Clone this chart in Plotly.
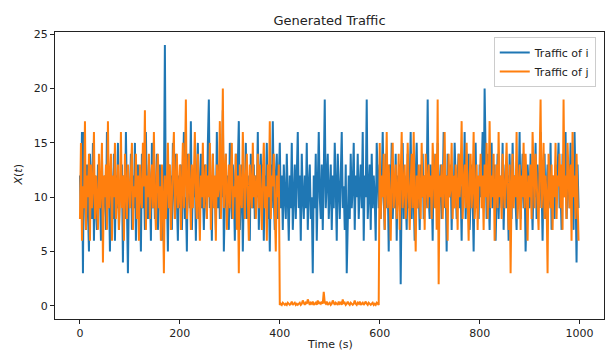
import plotly.graph_objects as go

traffic_i = [
    12, 8, 16, 3, 16, 10, 7, 13, 9, 5, 14, 11, 8, 15, 6, 12, 10, 7, 13, 9, 11, 6, 14, 8, 10,
    12, 7, 16, 9, 11, 5, 13, 10, 8, 14, 6, 12, 9, 15, 7, 11, 10, 13, 4, 12, 8, 16, 9, 3, 11,
    10, 14, 7, 12, 9, 15, 6, 11, 13, 8, 10, 5, 14, 9, 12, 7, 16, 10, 8, 13, 11, 6, 15, 9, 12,
    8, 11, 14, 7, 10, 13, 9, 6, 12, 10, 24, 8, 11, 5, 13, 9, 12, 7, 15, 10, 8, 14, 11, 6, 12,
    9, 13, 7, 11, 16, 8, 10, 5, 14, 12, 9, 17, 7, 11, 10, 13, 6, 12, 15, 8, 10, 14, 9, 11, 7,
    13, 10, 8, 15, 19, 9, 12, 6, 14, 10, 11, 7, 16, 9, 13, 8, 12, 10, 18, 5, 11, 14, 9, 12, 7,
    15, 10, 8, 13, 11, 6, 14, 9, 12, 17, 7, 10, 13, 5, 11, 9, 15, 8, 12, 10, 6, 14, 11, 9, 13,
    8, 12, 10, 16, 7, 11, 14, 9, 13, 6, 12, 10, 15, 8, 11, 5, 13, 9, 17, 10, 7, 12, 14, 8, 11,
    15, 9, 12, 7, 13, 10, 8, 14, 11, 6, 12, 9, 15, 7, 10, 13, 8, 11, 16, 9, 12, 6, 14, 10, 8,
    12, 9, 15, 7, 11, 13, 8, 10, 3, 12, 9, 14, 6, 11, 16, 10, 8, 13, 7, 12, 19, 9, 11, 14, 8,
    10, 13, 7, 12, 9, 15, 11, 6, 14, 10, 8, 12, 16, 9, 11, 7, 13, 3, 10, 12, 8, 14, 9, 11, 15,
    7, 12, 10, 14, 8, 11, 13, 9, 16, 6, 12, 10, 19, 8, 11, 13, 7, 14, 9, 12, 10, 6, 15, 11, 9,
    13, 8, 11, 16, 10, 7, 14, 9, 12, 5, 13, 10, 15, 8, 11, 9, 14, 6, 12, 10, 13, 2, 11, 15, 8,
    12, 10, 7, 14, 9, 11, 16, 8, 13, 10, 6, 12, 15, 9, 11, 7, 13, 10, 14, 8, 12, 9, 11, 19, 10,
    8, 13, 11, 6, 14, 10, 12, 9, 15, 7, 11, 13, 8, 10, 16, 9, 12, 5, 14, 11, 10, 13, 7, 12, 9,
    15, 10, 8, 12, 14, 9, 11, 6, 13, 10, 16, 8, 12, 9, 14, 7, 11, 13, 10, 5, 12, 15, 9, 11, 8,
    13, 10, 12, 16, 9, 20, 11, 8, 14, 10, 7, 12, 15, 9, 11, 13, 6, 10, 14, 8, 12, 11, 9, 15, 7,
    11, 13, 9, 12, 6, 14, 10, 8, 15, 11, 12, 9, 7, 13, 10, 16, 8, 11, 14, 9, 12, 5, 10, 13, 11,
    9, 14, 11, 7, 12, 10, 15, 8, 13, 11, 9, 16, 10, 6, 12, 14, 8, 11, 13, 9, 10, 15, 7, 12, 11,
    8, 13, 10, 12, 15, 9, 11, 7, 14, 10, 12, 16, 8, 11, 13, 9, 15, 10, 12, 7, 16, 11, 4, 13, 9,
]

traffic_j = [
    8, 15, 6, 11, 9, 17, 7, 12, 10, 14, 6, 13, 9, 11, 16, 8, 12, 10, 7, 14, 9, 11, 15, 4, 12,
    10, 13, 7, 17, 9, 11, 14, 6, 12, 10, 15, 8, 11, 13, 7, 10, 16, 9, 12, 6, 14, 10, 8, 13, 11,
    9, 12, 15, 7, 11, 10, 14, 8, 12, 6, 13, 10, 9, 15, 11, 18, 7, 12, 10, 14, 8, 11, 13, 9, 16,
    10, 7, 12, 14, 9, 11, 6, 13, 10, 3, 12, 8, 11, 15, 9, 13, 7, 10, 12, 16, 8, 11, 14, 9, 10,
    13, 7, 11, 15, 9, 12, 19, 8, 10, 14, 11, 7, 13, 9, 12, 16, 10, 8, 14, 11, 6, 12, 10, 15, 9,
    11, 13, 8, 12, 10, 15, 7, 11, 14, 9, 12, 6, 13, 10, 11, 17, 8, 12, 20, 9, 11, 14, 7, 10, 13,
    9, 12, 15, 8, 11, 10, 14, 7, 12, 3, 13, 10, 9, 16, 11, 8, 12, 14, 10, 6, 13, 11, 9, 15, 10,
    12, 8, 11, 14, 9, 13, 10, 7, 12, 15, 9, 11, 6, 13, 10, 17, 8, 12, 11, 14, 9, 5, 12, 10, 13,
    0.1, 0.2, 0.1, 0.3, 0.2, 0.1, 0.2, 0.1, 0.3, 0.2, 0.1, 0.2, 0.4, 0.1, 0.2, 0.3, 0.1, 0.2, 0.1, 0.2, 0.3, 0.1, 0.2, 0.5, 0.2,
    0.1, 0.3, 0.2, 0.6, 0.2, 0.1, 0.3, 0.2, 0.4, 0.1, 0.2, 0.3, 0.1, 0.5, 0.2, 0.3, 0.2, 0.4, 0.2, 1.3, 0.3, 0.2, 0.4, 0.1, 0.2,
    0.3, 0.1, 0.2, 0.5, 0.2, 0.1, 0.3, 0.2, 0.1, 0.4, 0.2, 0.3, 0.1, 0.6, 0.2, 0.3, 0.1, 0.2, 0.4, 0.2, 0.1, 0.3, 0.2, 0.1, 0.2,
    0.5, 0.2, 0.1, 0.3, 0.2, 0.4, 0.1, 0.2, 0.3, 0.1, 0.2, 0.4, 0.2, 0.1, 0.3, 0.2, 0.1, 0.2, 0.3, 0.1, 0.2, 0.1, 0.3, 0.2, 0.1,
    15, 8, 12, 10, 14, 7, 11, 16, 9, 13, 10, 6, 12, 15, 9, 11, 13, 8, 10, 14, 7, 12, 16, 9, 11,
    13, 8, 10, 15, 12, 7, 11, 14, 9, 16, 10, 5, 12, 9, 13, 11, 8, 15, 10, 12, 7, 14, 11, 9, 13,
    10, 12, 8, 15, 11, 9, 14, 7, 19, 2, 12, 10, 13, 8, 11, 16, 9, 12, 6, 14, 10, 11, 15, 8, 12,
    9, 13, 11, 7, 14, 10, 12, 17, 8, 11, 13, 9, 15, 10, 6, 12, 14, 9, 11, 16, 8, 10, 13, 7, 12,
    11, 14, 9, 12, 7, 13, 10, 15, 8, 11, 17, 9, 12, 10, 14, 6, 11, 13, 9, 16, 10, 12, 8, 14, 11,
    9, 12, 15, 10, 7, 13, 3, 11, 14, 9, 12, 10, 16, 8, 11, 13, 7, 12, 10, 15, 9, 14, 11, 6, 12,
    10, 13, 8, 16, 11, 9, 14, 12, 10, 7, 13, 19, 9, 11, 15, 8, 12, 10, 3, 14, 11, 9, 13, 7, 12,
    10, 15, 8, 12, 11, 14, 9, 13, 7, 19, 10, 12, 8, 15, 11, 9, 13, 6, 16, 10, 12, 8, 14, 11, 6,
]

time_i = [2 * k for k in range(len(traffic_i))]
time_j = [2 * k for k in range(len(traffic_j))]

x_ticks = [0, 200, 400, 600, 800, 1000]
y_ticks = [0, 5, 10, 15, 20, 25]

FONT = "DejaVu Sans"
INK = "#222222"

fig = go.Figure()
fig.add_trace(go.Scatter(x=time_i, y=traffic_i, mode="lines", name="Traffic of i",
                         line=dict(color="#1f77b4", width=2.0)))
fig.add_trace(go.Scatter(x=time_j, y=traffic_j, mode="lines", name="Traffic of j",
                         line=dict(color="#ff7f0e", width=2.0)))

fig.update_layout(
    width=605, height=352,
    margin=dict(l=55, r=1, t=32, b=33, autoexpand=False),
    paper_bgcolor="white", plot_bgcolor="white",
    font=dict(family=FONT, size=11, color=INK),
    title=dict(text="Generated Traffic", x=0.5, xref="paper", xanchor="center",
               y=1 - 20 / 352, yref="container", yanchor="middle",
               font=dict(family=FONT, size=13, color=INK)),
    showlegend=True,
    legend=dict(x=0.985, y=0.983, xanchor="right", yanchor="top",
                bgcolor="rgba(255,255,255,0.8)", bordercolor="#cccccc", borderwidth=1,
                font=dict(family=FONT, size=11, color=INK), itemwidth=30,
                tracegroupgap=0),
    annotations=[
        dict(text="<i>X</i>(<i>t</i>)", textangle=-90, xref="paper", yref="paper",
             x=(18 - 55) / 549, y=0.5, xanchor="center", yanchor="middle",
             showarrow=False, font=dict(family=FONT, size=11, color=INK)),
        dict(text="Time (s)", xref="paper", yref="paper",
             x=0.5, y=-(344 - 319) / 287, xanchor="center", yanchor="middle",
             showarrow=False, font=dict(family=FONT, size=11, color=INK)),
    ],
)

fig.update_xaxes(range=[-49.95, 1048.95], tickvals=x_ticks, ticktext=[str(v) for v in x_ticks],
                 automargin=False,
                 showgrid=False, zeroline=False, showline=True, mirror=True,
                 linecolor="#222222", linewidth=1, ticks="outside", ticklen=4,
                 tickcolor="#222222", tickwidth=1, tickfont=dict(family=FONT, size=11, color=INK))
fig.update_yaxes(range=[-1.2, 25.2], tickvals=y_ticks, ticktext=[str(v) for v in y_ticks],
                 automargin=False,
                 showgrid=False, zeroline=False, showline=True, mirror=True,
                 linecolor="#222222", linewidth=1, ticks="outside", ticklen=4,
                 tickcolor="#222222", tickwidth=1, tickfont=dict(family=FONT, size=11, color=INK))

fig.write_html("out.html", config={"displayModeBar": False},
               post_script="document.body.style.margin='0';document.body.style.padding='0';")
